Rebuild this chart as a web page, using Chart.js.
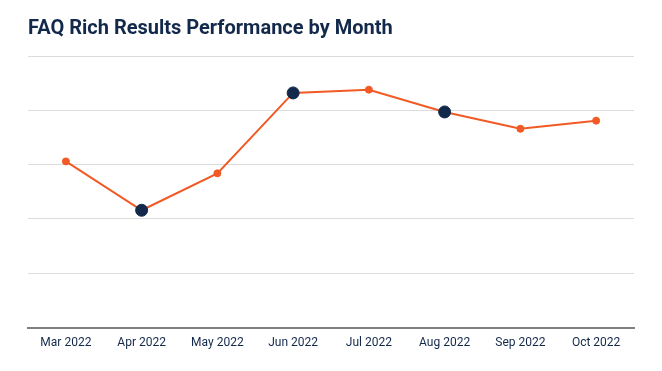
<!DOCTYPE html>
<html>
  <head>
    <title>FAQ Rich Results Performance by Month</title>
    <script src="https://cdn.jsdelivr.net/npm/chart.js@4.4.0/dist/chart.umd.min.js"></script>
    <style>
      body { margin: 0; background: #fff; }
      #wrap { width: 662px; height: 371px; }
    </style>
  </head>
  <body>
    <div id="wrap"><canvas id="faqChart" width="662" height="371"></canvas></div>
    <script>
      // Months shown along the x axis
      var months = ["Mar 2022", "Apr 2022", "May 2022", "Jun 2022", "Jul 2022", "Aug 2022", "Sep 2022", "Oct 2022"];
      // Relative performance (no y labels in the source, read on a 0-5 grid)
      var performance = [3.06, 2.16, 2.84, 4.32, 4.38, 3.97, 3.66, 3.81];
      // Months that are highlighted with a bigger dark dot
      var highlighted = [false, true, false, true, false, true, false, false];

      var orange = "#f15a24";
      var navy = "#13294b";

      var ctx = document.getElementById("faqChart").getContext("2d");

      var chart = new Chart(ctx, {
        type: "line",
        data: {
          labels: months,
          datasets: [
            {
              label: "FAQ rich results",
              data: performance,
              borderColor: orange,
              borderWidth: 2,
              tension: 0,
              pointBackgroundColor: highlighted.map((h) => (h ? navy : orange)),
              pointBorderColor: highlighted.map((h) => (h ? navy : orange)),
              pointRadius: highlighted.map((h) => (h ? 6 : 3.5)),
              pointBorderWidth: 1,
            },
          ],
        },
        options: {
          responsive: false,
          animation: false,
          layout: { padding: { left: 28, right: 28, top: 0, bottom: 13 } },
          plugins: {
            legend: { display: false },
            tooltip: { enabled: false },
            title: {
              display: true,
              text: "FAQ Rich Results Performance by Month",
              align: "start",
              color: navy,
              font: { family: "Roboto", size: 20, weight: "bold" },
              padding: { top: 17, bottom: 15 },
            },
          },
          scales: {
            x: {
              offset: true,
              grid: { display: false, drawTicks: false },
              border: { color: "#808080", width: 2 },
              ticks: {
                color: navy,
                font: { family: "Roboto", size: 12 },
                padding: 8,
                maxRotation: 0,
              },
            },
            y: {
              min: 0,
              max: 5,
              ticks: { display: false, stepSize: 1 },
              border: { display: false },
              grid: { color: "#dcdcdc", drawTicks: false },
            },
          },
        },
      });
    </script>
  </body>
</html>
